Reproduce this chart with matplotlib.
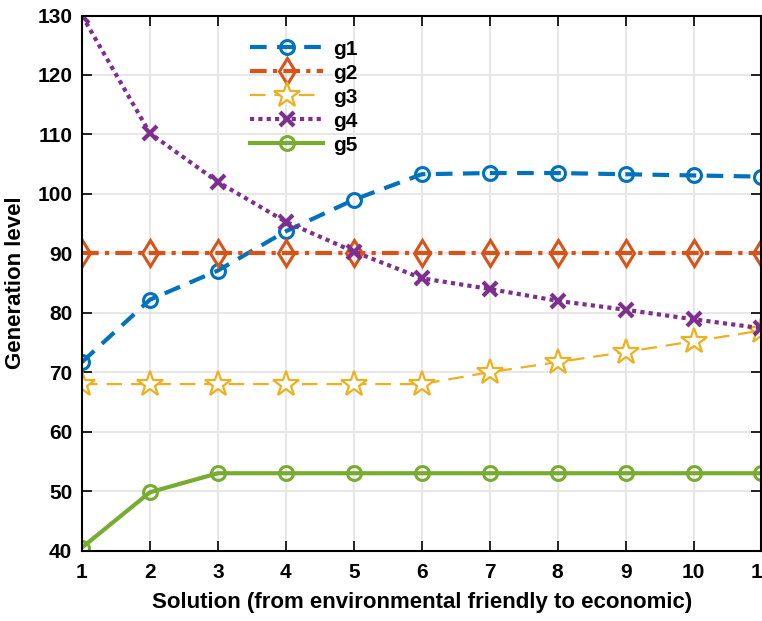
import matplotlib
matplotlib.use("Agg")
import matplotlib.pyplot as plt

# data
solutions = [1, 2, 3, 4, 5, 6, 7, 8, 9, 10, 11]
g1 = [71.7, 82.2, 87.1, 93.7, 99.0, 103.3, 103.5, 103.5, 103.3, 103.1, 102.9]
g2 = [90, 90, 90, 90, 90, 90, 90, 90, 90, 90, 90]
g3 = [68, 68, 68, 68, 68, 68, 70, 71.7, 73.4, 75.2, 77.0]
g4 = [130, 110.2, 102.0, 95.3, 90.3, 85.8, 84.0, 82.0, 80.5, 78.9, 77.4]
g5 = [40.5, 49.8, 53, 53, 53, 53, 53, 53, 53, 53, 53]
yticks = [40, 50, 60, 70, 80, 90, 100, 110, 120, 130]

plt.rcParams['font.family'] = ['Liberation Sans', 'DejaVu Sans']
plt.rcParams['font.weight'] = 'bold'

fig = plt.figure(figsize=(7.62, 6.21), dpi=100)
ax = fig.add_axes([0.1076, 0.1135, 0.8917, 0.8615])

blue = (0, 0.447, 0.741)
orange = (0.85, 0.325, 0.098)
yellow = (0.929, 0.694, 0.125)
purple = (0.494, 0.184, 0.556)
green = (0.466, 0.674, 0.188)

ax.plot(solutions, g1, color=blue, lw=3, ls=(0, (4, 2.5)), marker='o', ms=10,
        mfc='none', mew=2.2, label='g1')
ax.plot(solutions, g2, color=orange, lw=3, ls=(0, (4, 1.5, 1, 1.5)), marker='d', ms=13,
        mfc='none', mew=2.2, label='g2')
ax.plot(solutions, g3, color=yellow, lw=1.6, ls=(0, (7, 4)), marker='*', ms=19,
        mfc='white', mew=1.6, label='g3')
ax.plot(solutions, g4, color=purple, lw=3, ls=(0, (1, 1)), marker='x', ms=10,
        mew=3, label='g4')
ax.plot(solutions, g5, color=green, lw=3, ls='-', marker='o', ms=10,
        mfc='none', mew=2.2, label='g5')

ax.set_xlim(1, 11)
ax.set_ylim(40, 130)
ax.set_xticks(solutions)
ax.set_yticks(yticks)
ax.grid(True, color='#e3e3e3', lw=1.2)
ax.set_axisbelow(True)
ax.tick_params(direction='in', top=True, right=True, labelsize=15, length=7, width=1.2, pad=7)
ax.tick_params(axis='x', pad=9)
for s in ax.spines.values():
    s.set_linewidth(1.5)

ax.set_xlabel('Solution (from environmental friendly to economic)', fontsize=16, fontweight='bold', labelpad=7)
ax.set_ylabel('Generation level', fontsize=16, fontweight='bold', labelpad=8)

leg = ax.legend(loc='upper left', bbox_to_anchor=(0.22, 0.99), frameon=False, fontsize=15,
                handlelength=3.5, labelspacing=0.24, handletextpad=0.5)

fig.savefig('out.png', dpi=100)
